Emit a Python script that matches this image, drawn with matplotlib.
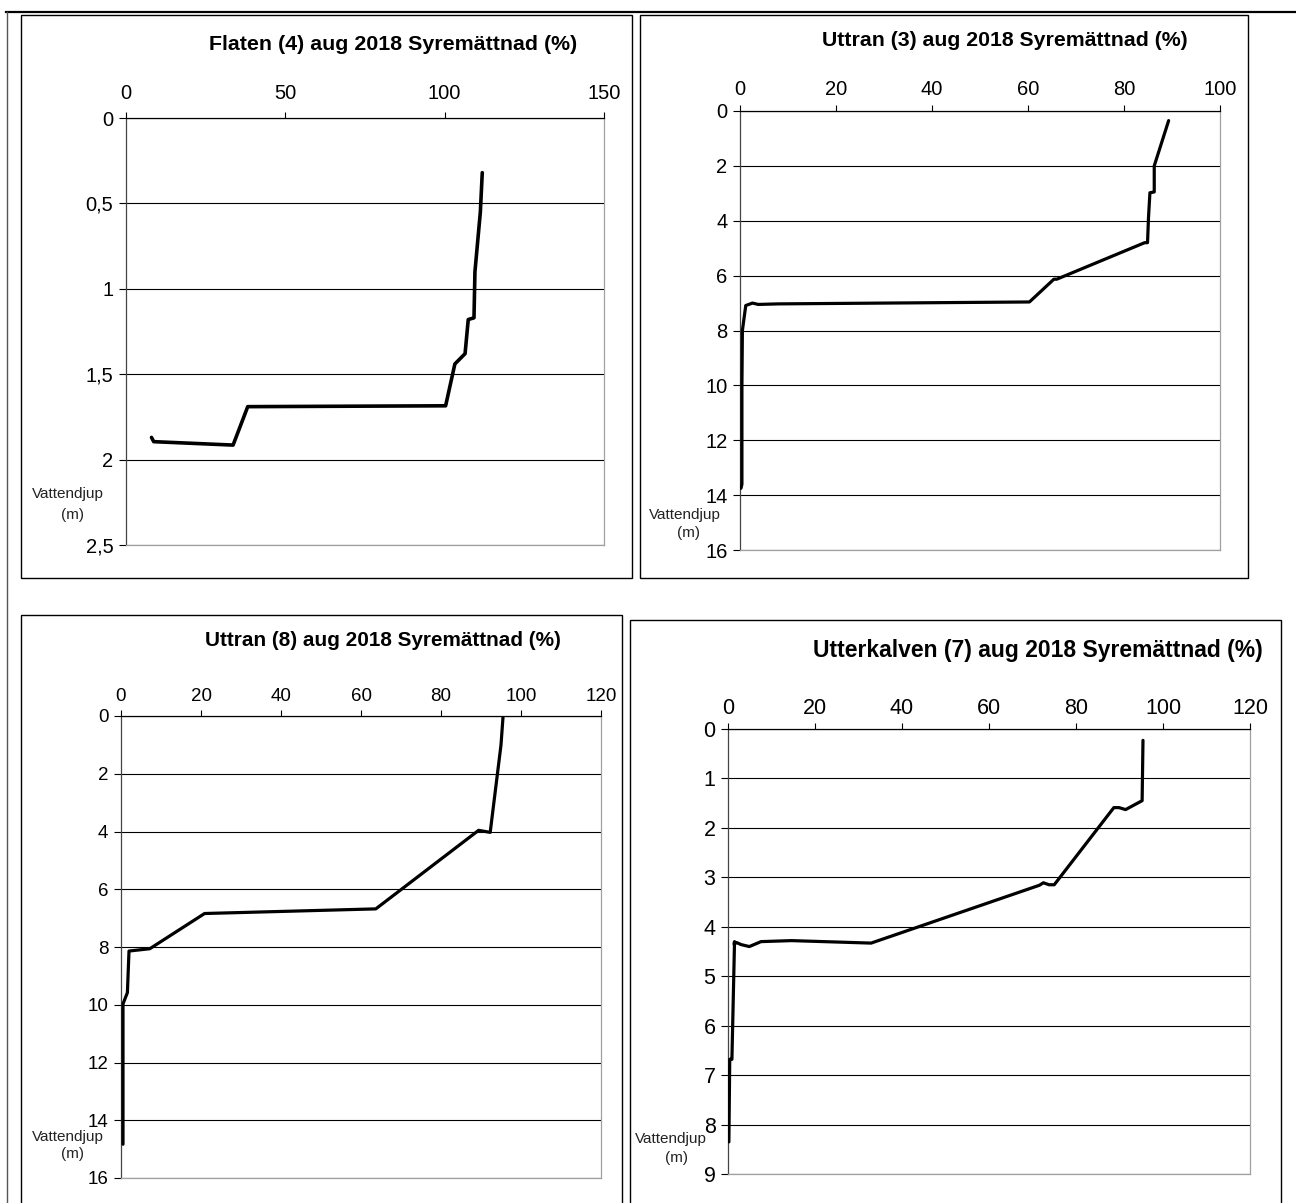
import matplotlib
matplotlib.use("Agg")
import matplotlib.pyplot as plt
from matplotlib.patches import Rectangle
from matplotlib.lines import Line2D

W, H = 1296, 1203

# ---------------- data ----------------
flaten_depth = [0.32, 0.55, 0.90, 1.17, 1.18, 1.38, 1.44, 1.685, 1.69, 1.915, 1.895, 1.87]
flaten_sat = [111.8, 111.2, 109.5, 109.2, 107.4, 106.4, 103.2, 100.3, 38.2, 33.6, 8.7, 8.0]

uttran3_depth = [0.35, 2.0, 2.95, 2.98, 3.9, 4.8, 4.8, 6.13, 6.13, 6.96, 7.03, 7.05, 7.0, 7.09, 8.0, 10.0, 13.6, 13.75]
uttran3_sat = [89.3, 86.3, 86.3, 85.4, 85.1, 84.9, 84.3, 66.0, 65.4, 60.3, 8.0, 3.8, 2.6, 1.2, 0.5, 0.4, 0.4, 0.2]

uttran8_depth = [0.04, 1.0, 4.03, 3.96, 6.68, 6.84, 8.06, 8.14, 9.58, 9.97, 14.83]
uttran8_sat = [95.5, 95.0, 92.3, 89.4, 63.7, 20.9, 7.2, 2.0, 1.6, 0.5, 0.5]

utterk_depth = [0.23, 1.45, 1.63, 1.59, 1.59, 3.15, 3.15, 3.11, 3.16, 4.33, 4.28, 4.30, 4.40, 4.36, 4.32, 4.35, 4.30, 6.68, 6.68, 8.35]
utterk_sat = [95.4, 95.2, 91.4, 89.9, 88.7, 75.0, 73.8, 72.5, 71.6, 32.9, 14.6, 7.6, 4.9, 3.0, 2.0, 1.4, 1.5, 0.9, 0.4, 0.2]

titles = ["Flaten (4) aug 2018 Syremättnad (%)",
          "Uttran (3) aug 2018 Syremättnad (%)",
          "Uttran (8) aug 2018 Syremättnad (%)",
          "Utterkalven (7) aug 2018 Syremättnad (%)"]

flaten_xticks = [0, 50, 100, 150]
flaten_yticks = [0, 0.5, 1, 1.5, 2, 2.5]
flaten_ylabels = ["0", "0,5", "1", "1,5", "2", "2,5"]
uttran3_xticks = [0, 20, 40, 60, 80, 100]
uttran3_yticks = [0, 2, 4, 6, 8, 10, 12, 14, 16]
uttran8_xticks = [0, 20, 40, 60, 80, 100, 120]
uttran8_yticks = [0, 2, 4, 6, 8, 10, 12, 14, 16]
utterk_xticks = [0, 20, 40, 60, 80, 100, 120]
utterk_yticks = [0, 1, 2, 3, 4, 5, 6, 7, 8, 9]

# ---------------- layout ----------------
plt.rcParams['font.family'] = ['Liberation Sans', 'DejaVu Sans']
fig = plt.figure(figsize=(W / 100, H / 100), dpi=100)


def fx(px):
    return px / W


def fy(py):
    return 1 - py / H


def add_axes_px(x0, y0, x1, y1):
    return fig.add_axes([fx(x0), fy(y1), fx(x1) - fx(x0), (y1 - y0) / H])


# page / table lines
fig.add_artist(Line2D([fx(6), fx(1296)], [fy(12), fy(12)], color='black', lw=1.6, transform=fig.transFigure))
fig.add_artist(Line2D([fx(7), fx(7)], [fy(12), fy(1203)], color='#555555', lw=1.0, transform=fig.transFigure))

# panel boxes
boxes = [(21, 15, 632, 578), (640, 15, 1248, 578), (21, 615, 622, 1215), (630, 620, 1281, 1215)]
for (x0, y0, x1, y1) in boxes:
    fig.add_artist(Rectangle((fx(x0), fy(y1)), fx(x1) - fx(x0), (y1 - y0) / H,
                             fill=False, edgecolor='black', lw=1.0, transform=fig.transFigure))

panels = [
    dict(rect=(126, 118, 604, 545), depth=flaten_depth, sat=flaten_sat, xt=flaten_xticks,
         yt=flaten_yticks, yl=flaten_ylabels, fs=14.5, lw=2.6, xpad=6.5,
         title_c=(393, 44), title_w=369, lab=(68, 494, 72, 515)),
    dict(rect=(740, 111, 1220, 550), depth=uttran3_depth, sat=uttran3_sat, xt=uttran3_xticks,
         yt=uttran3_yticks, yl=None, fs=14.5, lw=2.3, xpad=4.5,
         title_c=(1005, 40), title_w=365, lab=(685, 515, 689, 533)),
    dict(rect=(121, 716, 601, 1178), depth=uttran8_depth, sat=uttran8_sat, xt=uttran8_xticks,
         yt=uttran8_yticks, yl=None, fs=13.5, lw=2.3, xpad=4.0,
         title_c=(383, 640), title_w=358, lab=(68, 1137, 72, 1154)),
    dict(rect=(728, 729, 1250, 1174), depth=utterk_depth, sat=utterk_sat, xt=utterk_xticks,
         yt=utterk_yticks, yl=None, fs=15.5, lw=2.3, xpad=3.2,
         title_c=(1038, 650), title_w=452, lab=(671, 1139, 676, 1158)),
]

title_texts = []
for p, title in zip(panels, titles):
    ax = add_axes_px(*p['rect'])
    ax.plot(p['sat'], p['depth'], color='black', lw=p['lw'], solid_joinstyle='round',
            solid_capstyle='round', zorder=3)
    ax.set_xlim(p['xt'][0], p['xt'][-1])
    ax.set_ylim(p['yt'][-1], p['yt'][0])
    ax.xaxis.tick_top()
    ax.set_xticks(p['xt'])
    ax.set_yticks(p['yt'])
    if p['yl'] is not None:
        ax.set_yticklabels(p['yl'])
    ax.tick_params(axis='x', direction='out', length=4, width=0.8, pad=p['xpad'],
                   labelsize=p['fs'], colors='black')
    ax.tick_params(axis='y', direction='out', length=5, width=0.8, pad=4,
                   labelsize=p['fs'], colors='black')
    ax.set_axisbelow(True)
    ax.yaxis.grid(True, color='black', lw=0.8)
    ax.xaxis.grid(False)
    ax.spines['top'].set_color('black')
    ax.spines['top'].set_linewidth(0.9)
    ax.spines['left'].set_color('#444444')
    ax.spines['left'].set_linewidth(0.9)
    ax.spines['right'].set_color('#a0a0a0')
    ax.spines['bottom'].set_color('#a0a0a0')
    ax.spines['right'].set_linewidth(0.9)
    ax.spines['bottom'].set_linewidth(0.9)
    ax.patch.set_alpha(0)

    t = fig.text(fx(p['title_c'][0]), fy(p['title_c'][1]), title, ha='center', va='center',
                 fontsize=15, fontweight='bold', color='black')
    title_texts.append((t, p['title_w']))

    lx, ly, mx, my = p['lab']
    fig.text(fx(lx), fy(ly), "Vattendjup", ha='center', va='center', fontsize=11, color='#222222')
    fig.text(fx(mx), fy(my), "(m)", ha='center', va='center', fontsize=11, color='#222222')

# fit the title widths to the reference
fig.canvas.draw()
r = fig.canvas.get_renderer()
for t, target in title_texts:
    w = t.get_window_extent(renderer=r).width
    t.set_fontsize(15 * target / w)

fig.savefig("out.png", dpi=100)
